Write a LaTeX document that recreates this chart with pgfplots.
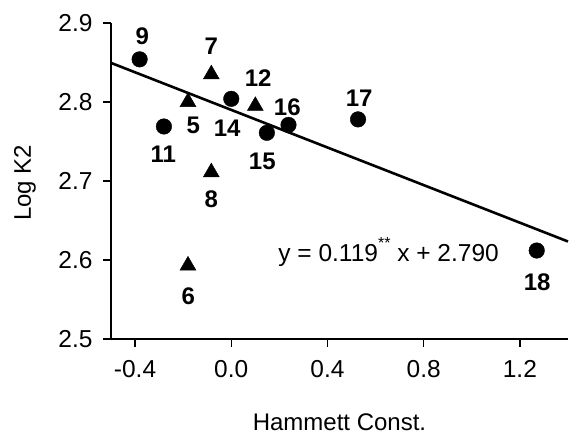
\documentclass[border=0pt]{standalone}
\usepackage{fontspec}
\setmainfont{Liberation Sans}
\usepackage{pgfplots}
\pgfplotsset{compat=1.18}
\begin{document}
\begin{tikzpicture}
\begin{axis}[
  at={(111pt,96pt)}, anchor=south west,
  scale only axis, width=457pt, height=316pt,
  xmin=-0.5, xmax=1.4, ymin=2.5, ymax=2.9,
  axis lines*=left,
  axis line style={line width=1.6pt},
  xtick={-0.4,0,0.4,0.8,1.2},
  xticklabels={-0.4,0.0,0.4,0.8,1.2},
  ytick={2.5,2.6,2.7,2.8,2.9},
  yticklabels={2.5,2.6,2.7,2.8,2.9},
  tick align=outside, major tick length=8pt,
  tick style={line width=1.4pt, black},
  ticklabel style={font=\fontsize{24.5}{28}\selectfont},
  xticklabel style={yshift=-10pt},
  yticklabel style={xshift=-7pt},
  xlabel={Hammett Const.},
  ylabel={Log K2},
  label style={font=\fontsize{24}{28}\selectfont, inner sep=0pt},
  xlabel style={at={(axis description cs:0.5,-0.262)}, anchor=center},
  ylabel style={at={(axis description cs:-0.188,0.494)}, anchor=center},
  clip=false,
]
% regression line
\addplot[black, line width=2.6pt] coordinates {(-0.5,2.8495) (1.4,2.6234)};
% circles
\addplot[only marks, mark=*, mark size=7.8pt, black] coordinates {
  (-0.381,2.854) (-0.280,2.769) (0.000,2.804) (0.148,2.761)
  (0.238,2.771) (0.527,2.778) (1.270,2.612)
};
% triangles
\addplot[only marks, mark=triangle*, mark size=9.2pt, black] coordinates {
  (-0.180,2.800) (-0.180,2.593) (-0.083,2.835) (-0.083,2.711) (0.100,2.795)
};
% point labels
\begin{scope}[every node/.style={font=\fontsize{24}{28}\selectfont\bfseries}]
\node at (axis cs:-0.370,2.8835) {9};
\node at (axis cs:-0.083,2.870) {7};
\node at (axis cs:0.112,2.830) {12};
\node at (axis cs:0.233,2.7937) {16};
\node at (axis cs:-0.158,2.771) {5};
\node at (axis cs:-0.017,2.767) {14};
\node at (axis cs:-0.283,2.734) {11};
\node at (axis cs:0.129,2.725) {15};
\node at (axis cs:-0.083,2.677) {8};
\node at (axis cs:0.532,2.805) {17};
\node at (axis cs:-0.179,2.554) {6};
\node at (axis cs:1.272,2.572) {18};
\end{scope}
\node[anchor=west, inner sep=0pt, font=\fontsize{24.5}{28}\selectfont] at (axis cs:0.195,2.610)
  {y = 0.119\raisebox{0.5em}{\fontsize{16}{18}\selectfont **} x + 2.790};
\end{axis}
\pgfresetboundingbox
\useasboundingbox (0,0) rectangle (569pt,435pt);
\end{tikzpicture}
\end{document}
